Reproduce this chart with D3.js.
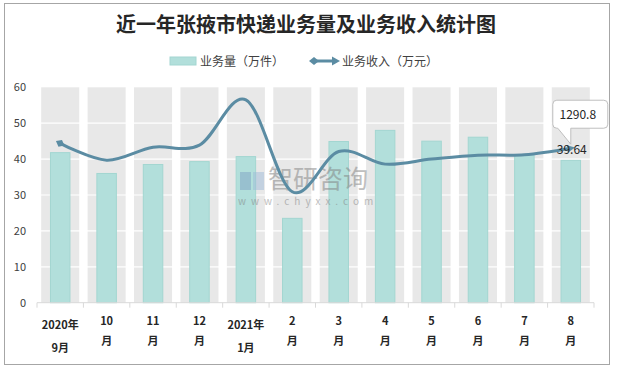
<!DOCTYPE html>
<html>
<head>
<meta charset="utf-8">
<script src="https://cdn.jsdelivr.net/npm/d3@7"></script>
<style>
  body { margin: 0; background: #fff; }
  text { font-family: "Noto Sans CJK SC", "Liberation Sans", sans-serif; }
</style>
</head>
<body>
<script>
// 月份（两行显示）
const months = [
    ['2020年', '9月'], ['10', '月'], ['11', '月'], ['12', '月'], ['2021年', '1月'],
    ['2', '月'], ['3', '月'], ['4', '月'], ['5', '月'], ['6', '月'], ['7', '月'], ['8', '月']
];
// 业务量（万件）
const volume = [41.8, 36.0, 38.5, 39.3, 40.7, 23.5, 44.9, 48.0, 45.0, 46.1, 41.1, 39.64];
// 业务收入（万元）
const revenue = [1332, 1191, 1299, 1317, 1695, 927, 1263, 1158, 1200, 1233, 1236, 1290.8];
const yTicks = [0, 10, 20, 30, 40, 50, 60];

const width = 617;
const height = 371;
const plotLeft = 37, plotRight = 594, plotTop = 87.3, plotBottom = 302.7;

const svg = d3.select('body').append('svg')
    .attr('width', width)
    .attr('height', height);

// 外框
svg.append('rect')
    .attr('x', 4.5).attr('y', 3.5)
    .attr('width', 605).attr('height', 361)
    .attr('fill', '#fff')
    .attr('stroke', '#a6a6a6');

const keys = months.map((m, i) => i);
const x = d3.scaleBand().domain(keys).range([plotLeft, plotRight]);
const y = d3.scaleLinear().domain([0, 60]).range([plotBottom, plotTop]);
const y2 = d3.scaleLinear().domain([0, 1800]).range([plotBottom, plotTop]);
const bw = x.bandwidth();

// 标题
svg.append('text')
    .attr('x', 306).attr('y', 32)
    .attr('text-anchor', 'middle')
    .attr('font-size', 20)
    .attr('font-weight', 'bold')
    .attr('fill', '#262626')
    .text('近一年张掖市快递业务量及业务收入统计图');

// 图例
const legend = svg.append('g');
legend.append('rect')
    .attr('x', 170).attr('y', 57).attr('width', 26).attr('height', 8)
    .attr('fill', '#b2dfdb').attr('stroke', '#a3d6d1');
legend.append('text')
    .attr('x', 200).attr('y', 65.5)
    .attr('font-size', 12).attr('fill', '#404040')
    .text('业务量（万件）');
legend.append('line')
    .attr('x1', 313).attr('x2', 336).attr('y1', 61).attr('y2', 61)
    .attr('stroke', '#5b8ca3').attr('stroke-width', 3);
legend.append('path')
    .attr('d', 'M309,61 L314,57 L319,61 L314,65 Z')
    .attr('fill', '#5b8ca3');
legend.append('path')
    .attr('d', 'M340,61 L332,56.5 L332,65.5 Z')
    .attr('fill', '#5b8ca3');
legend.append('text')
    .attr('x', 342).attr('y', 65.5)
    .attr('font-size', 12).attr('fill', '#404040')
    .text('业务收入（万元）');

// 灰色背景柱
svg.append('g')
    .selectAll('rect')
    .data(keys)
    .enter().append('rect')
    .attr('x', d => x(d) + bw * 0.09)
    .attr('width', bw * 0.82)
    .attr('y', y(60))
    .attr('height', y(0) - y(60))
    .attr('fill', '#e8e8e8');

// 网格线
svg.append('g')
    .selectAll('line')
    .data(yTicks.filter(t => t > 0 && t < 60))
    .enter().append('line')
    .attr('x1', plotLeft).attr('x2', plotRight)
    .attr('y1', d => y(d)).attr('y2', d => y(d))
    .attr('stroke', '#fff').attr('stroke-width', 1.2);

// Y轴刻度
svg.append('g')
    .selectAll('text')
    .data(yTicks)
    .enter().append('text')
    .attr('x', 26)
    .attr('y', d => y(d) + 4)
    .attr('text-anchor', 'end')
    .attr('font-size', 11)
    .attr('fill', '#404040')
    .text(d => d);

// 业务量柱
svg.append('g')
    .selectAll('rect')
    .data(volume)
    .enter().append('rect')
    .attr('x', (d, i) => x(i) + bw * 0.29)
    .attr('width', bw * 0.42)
    .attr('y', d => y(d))
    .attr('height', d => y(0) - y(d))
    .attr('fill', '#b2dfdb')
    .attr('stroke', '#a3d6d1');

// 水印
const wm = svg.append('g').attr('opacity', 0.5);
wm.append('rect').attr('x', 240).attr('y', 172).attr('width', 11).attr('height', 18).attr('fill', '#7fa3c4');
wm.append('rect').attr('x', 253).attr('y', 172).attr('width', 11).attr('height', 18).attr('fill', '#9fbcd9');
wm.append('text')
    .attr('x', 268).attr('y', 188)
    .attr('font-size', 25).attr('fill', '#808080')
    .text('智研咨询');
wm.append('text')
    .attr('x', 238).attr('y', 205)
    .attr('font-size', 10).attr('fill', '#808080')
    .attr('letter-spacing', 5)
    .text('www.chyxx.com');

// X轴
svg.append('line')
    .attr('x1', plotLeft).attr('x2', plotRight)
    .attr('y1', plotBottom).attr('y2', plotBottom)
    .attr('stroke', '#d9d9d9');
svg.append('g')
    .selectAll('line')
    .data(keys.concat([keys.length]))
    .enter().append('line')
    .attr('x1', d => d < keys.length ? x(d) : plotRight)
    .attr('x2', d => d < keys.length ? x(d) : plotRight)
    .attr('y1', plotBottom).attr('y2', plotBottom + 5)
    .attr('stroke', '#d9d9d9');

const labels = svg.append('g')
    .selectAll('text')
    .data(months)
    .enter().append('text')
    .attr('text-anchor', 'middle')
    .attr('font-size', 11)
    .attr('font-weight', 'bold')
    .attr('fill', '#262626');
labels.append('tspan')
    .attr('x', (d, i) => x(i) + bw / 2)
    .attr('y', d => d[0].length > 2 ? 329 : 325)
    .text(d => d[0]);
labels.append('tspan')
    .attr('x', (d, i) => x(i) + bw / 2)
    .attr('y', d => d[0].length > 2 ? 352 : 345)
    .text(d => d[1]);

// 业务收入曲线
const defs = svg.append('defs');
defs.append('marker')
    .attr('id', 'diamond')
    .attr('viewBox', '-5 -5 10 10')
    .attr('markerWidth', 3.2).attr('markerHeight', 3.2)
    .attr('orient', 'auto')
    .attr('markerUnits', 'strokeWidth')
    .append('path')
    .attr('d', 'M-5,0 L0,-4 L5,0 L0,4 Z')
    .attr('fill', '#5b8ca3');
defs.append('marker')
    .attr('id', 'arrow')
    .attr('viewBox', '-5 -5 10 10')
    .attr('markerWidth', 3).attr('markerHeight', 3)
    .attr('orient', 'auto')
    .attr('markerUnits', 'strokeWidth')
    .append('path')
    .attr('d', 'M5,0 L-4,-4 L-4,4 Z')
    .attr('fill', '#5b8ca3');

const line = d3.line()
    .x((d, i) => x(i) + bw / 2)
    .y(d => y2(d))
    .curve(d3.curveCardinal.tension(0));

svg.append('path')
    .datum(revenue)
    .attr('d', line)
    .attr('fill', 'none')
    .attr('stroke', '#5b8ca3')
    .attr('stroke-width', 3)
    .attr('marker-start', 'url(#diamond)')
    .attr('marker-end', 'url(#arrow)');

// 数据标签
const lastX = x(keys.length - 1) + bw / 2;
svg.append('text')
    .attr('x', lastX + 1)
    .attr('y', y(volume[volume.length - 1]) - 6)
    .attr('text-anchor', 'middle')
    .attr('font-size', 12)
    .attr('fill', '#262626')
    .text(volume[volume.length - 1]);

const ly = y2(revenue[revenue.length - 1]);
svg.append('path')
    .attr('d', `M${lastX - 13},${ly - 20} L${lastX - 14},${ly - 20} Q${lastX - 18},${ly - 20} ${lastX - 18},${ly - 24}`
        + ` L${lastX - 18},${ly - 44} Q${lastX - 18},${ly - 48} ${lastX - 14},${ly - 48}`
        + ` L${lastX + 33},${ly - 48} Q${lastX + 37},${ly - 48} ${lastX + 37},${ly - 44}`
        + ` L${lastX + 37},${ly - 24} Q${lastX + 37},${ly - 20} ${lastX + 33},${ly - 20}`
        + ` L${lastX},${ly - 20} L${lastX},${ly - 4} Z`)
    .attr('fill', '#fff')
    .attr('stroke', '#bfbfbf');
svg.append('text')
    .attr('x', lastX + 7)
    .attr('y', ly - 29)
    .attr('text-anchor', 'middle')
    .attr('font-size', 12)
    .attr('fill', '#262626')
    .text(revenue[revenue.length - 1]);
</script>
</body>
</html>
